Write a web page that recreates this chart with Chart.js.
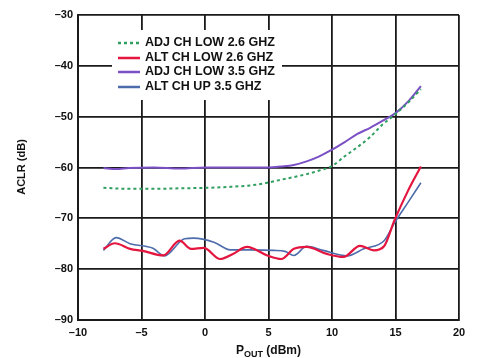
<!DOCTYPE html>
<html><head><meta charset="utf-8">
<script src="https://cdn.jsdelivr.net/npm/chart.js@4/dist/chart.umd.min.js"></script>
<style>html,body{margin:0;padding:0;background:#fff}#w{width:489px;height:358px}</style>
</head><body><div id="w"><canvas id="c" width="489" height="358"></canvas></div>
<script>
const xTicks = [-10, -5, 0, 5, 10, 15, 20];
const yTicks = [-30, -40, -50, -60, -70, -80, -90];
const seriesNames = ["ADJ CH LOW 2.6 GHZ", "ALT CH LOW 2.6 GHZ", "ADJ CH LOW 3.5 GHZ", "ALT CH UP 3.5 GHZ"];

const adj26X = [-8, -6, -4, -2, 0, 2, 4, 6, 8, 9, 10, 11, 12, 13, 14, 15, 16, 17];
const adj26Y = [-64.0, -64.2, -64.2, -64.1, -64.0, -63.8, -63.4, -62.4, -61.3, -60.6, -59.7, -57.8, -56.0, -54.0, -51.5, -49.5, -47.2, -44.6];

const alt26X = [-8, -7.1, -5.9, -4.9, -3.3, -2.0, -1.1, -0.1, 1.2, 2.2, 3.3, 4.9, 6.0, 7.0, 8.0, 9.6, 10.9, 12.2, 13.3, 14.1, 14.9, 16.0, 17];
const alt26Y = [-76.0, -74.9, -76.0, -76.4, -77.3, -74.4, -76.0, -75.8, -78.0, -77.0, -75.6, -77.3, -78.0, -76.0, -75.6, -77.0, -77.6, -75.4, -76.3, -75.5, -70.5, -64.5, -59.8];

const adj35X = [-8, -7, -6, -4, -2, 0, 2, 4, 5, 6, 7, 8, 9, 10, 11, 12, 13, 14, 15, 16, 17];
const adj35Y = [-60.1, -60.3, -60.1, -60.0, -60.2, -60.0, -60.0, -60.0, -60.0, -59.8, -59.5, -58.8, -57.8, -56.5, -55.0, -53.4, -52.2, -50.8, -49.3, -47.0, -44.0];

const alt35X = [-8, -7.0, -5.9, -4.1, -3.2, -1.6, -0.9, 0.7, 2.0, 3.5, 5.4, 6.3, 7.0, 8.0, 9.3, 11.2, 12.5, 14.1, 14.9, 16.0, 17];
const alt35Y = [-76.3, -73.8, -75.0, -75.9, -77.4, -74.0, -73.9, -74.7, -76.2, -76.2, -76.3, -76.5, -77.3, -75.5, -76.3, -77.4, -76.0, -74.4, -71.0, -66.8, -63.0];

const colors = ["#2f9e5e", "#e4163f", "#7a50c4", "#4d6cab"];

function pts(xs, ys){ return xs.map((x,i)=>({x:x, y:ys[i]})); }

const legendPlugin = {
  id: 'customLegend',
  afterDatasetsDraw(chart){
    const ctx = chart.ctx;
    ctx.save();
    ctx.fillStyle = '#fff';
    ctx.fillRect(112, 30, 170, 70);
    ctx.font = 'bold 12.5px "Liberation Sans", Arial, sans-serif';
    ctx.textBaseline = 'middle';
    ctx.textAlign = 'left';
    const rowY = [43, 58, 72, 87];
    chart.data.datasets.forEach((ds,i)=>{
      ctx.strokeStyle = ds.borderColor;
      ctx.lineWidth = 2.5;
      ctx.setLineDash(ds.borderDash || []);
      ctx.beginPath(); ctx.moveTo(118, rowY[i]); ctx.lineTo(140, rowY[i]); ctx.stroke();
      ctx.setLineDash([]);
      ctx.fillStyle = '#111';
      ctx.fillText(ds.label, 145, rowY[i]);
    });
    ctx.fillStyle = '#111';
    ctx.save();
    ctx.translate(22, 167);
    ctx.rotate(-Math.PI/2);
    ctx.textAlign = 'center';
    ctx.font = 'bold 11px "Liberation Sans", Arial, sans-serif';
    ctx.fillText('ACLR (dB)', 0, 0);
    ctx.restore();
    const cx = (chart.chartArea.left + chart.chartArea.right)/2;
    ctx.textAlign = 'left';
    ctx.textBaseline = 'alphabetic';
    ctx.font = 'bold 12px "Liberation Sans", Arial, sans-serif';
    const p = 'P', sub = 'OUT', rest = ' (dBm)';
    const wP = ctx.measureText(p).width;
    ctx.font = 'bold 9px "Liberation Sans", Arial, sans-serif';
    const wS = ctx.measureText(sub).width;
    ctx.font = 'bold 12px "Liberation Sans", Arial, sans-serif';
    const wR = ctx.measureText(rest).width;
    let x0 = cx - (wP + wS + wR)/2;
    ctx.fillText(p, x0, 354);
    ctx.font = 'bold 9px "Liberation Sans", Arial, sans-serif';
    ctx.fillText(sub, x0 + wP, 357);
    ctx.font = 'bold 12px "Liberation Sans", Arial, sans-serif';
    ctx.fillText(rest, x0 + wP + wS, 354);
    ctx.restore();
  }
};

const fmt = v => (v < 0 ? '\u2013' + Math.abs(v) : String(v));

new Chart(document.getElementById('c'), {
  type: 'line',
  data: {
    datasets: [
      {label: seriesNames[0], data: pts(adj26X, adj26Y), borderColor: colors[0], borderWidth: 2, borderDash: [3,3]},
      {label: seriesNames[1], data: pts(alt26X, alt26Y), borderColor: colors[1], borderWidth: 2.2},
      {label: seriesNames[2], data: pts(adj35X, adj35Y), borderColor: colors[2], borderWidth: 2},
      {label: seriesNames[3], data: pts(alt35X, alt35Y), borderColor: colors[3], borderWidth: 1.6}
    ]
  },
  options: {
    responsive: false,
    animation: false,
    devicePixelRatio: 1,
    layout: {padding: {left: 0, top: 15, right: 30, bottom: 0}},
    elements: {point: {radius: 0}, line: {tension: 0.4, cubicInterpolationMode: 'monotone', fill: false}},
    plugins: {legend: {display: false}, tooltip: {enabled: false}},
    scales: {
      x: {
        type: 'linear', min: -10, max: 20,
        afterBuildTicks: s => { s.ticks = xTicks.map(v => ({value: v})); },
        afterFit: s => { s.height = 38; },
        grid: {color: '#1a1a1a', lineWidth: 1.8, drawTicks: false},
        border: {color: '#1a1a1a', width: 2},
        ticks: {padding: 6, color: '#111', font: {family: '"Liberation Sans", Arial, sans-serif', size: 11, weight: 'bold'}, callback: v => fmt(v), maxRotation: 0}
      },
      y: {
        type: 'linear', min: -90, max: -30,
        afterBuildTicks: s => { s.ticks = yTicks.map(v => ({value: v})); },
        afterFit: s => { s.width = 78; },
        grid: {color: '#1a1a1a', lineWidth: 1.8, drawTicks: false},
        border: {color: '#1a1a1a', width: 2},
        ticks: {padding: 5, color: '#111', font: {family: '"Liberation Sans", Arial, sans-serif', size: 11, weight: 'bold'}, callback: v => fmt(v)}
      }
    }
  },
  plugins: [legendPlugin]
});
</script></body></html>
